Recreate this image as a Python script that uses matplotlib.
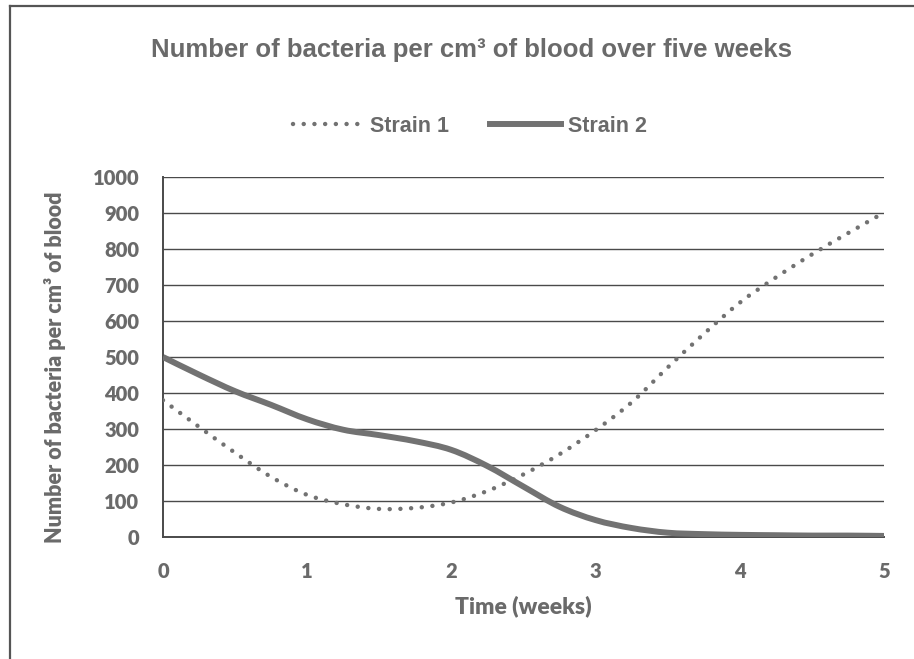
import matplotlib
matplotlib.use("Agg")
import matplotlib.pyplot as plt
from matplotlib.lines import Line2D
from matplotlib.path import Path
from matplotlib.patches import PathPatch

# Data
weeks = [0, 0.25, 0.5, 0.75, 1.0, 1.25, 1.5, 1.75, 2.0, 2.25, 2.5, 2.75,
         3.0, 3.25, 3.5, 3.75, 4.0, 4.25, 4.5, 4.75, 5.0]
strain1 = [380, 306, 234, 167, 117, 91, 78, 81, 96, 128, 174, 230,
           297, 374, 471, 564, 651, 721, 785, 844, 901]
strain2 = [500, 451, 405, 367, 327, 298, 283, 266, 242, 197, 140, 84,
           47, 25, 12, 8, 6, 5, 4, 4, 3]
yticks = [0, 100, 200, 300, 400, 500, 600, 700, 800, 900, 1000]
xticks = [0, 1, 2, 3, 4, 5]

title = "Number of bacteria per cm³ of blood over five weeks"
ylabel = "Number of bacteria per cm³ of blood"
xlabel = "Time (weeks)"

TXT = "#6a6a6a"
LINE = "#727272"
GRID = "#4a4a4a"


def smooth_path(xs, ys, t=1 / 6):
    """Excel-style smoothed line: cubic Bezier through the data points."""
    verts = [(xs[0], ys[0])]
    codes = [Path.MOVETO]
    n = len(xs)
    for i in range(n - 1):
        x0, y0 = (xs[i - 1], ys[i - 1]) if i > 0 else (xs[i], ys[i])
        x1, y1 = xs[i], ys[i]
        x2, y2 = xs[i + 1], ys[i + 1]
        x3, y3 = (xs[i + 2], ys[i + 2]) if i + 2 < n else (x2, y2)
        c1 = (x1 + (x2 - x0) * t, y1 + (y2 - y0) * t)
        c2 = (x2 - (x3 - x1) * t, y2 - (y3 - y1) * t)
        verts += [c1, c2, (x2, y2)]
        codes += [Path.CURVE4] * 3
    return Path(verts, codes)


fig = plt.figure(figsize=(9.14, 6.59), dpi=100)
fig.patch.set_facecolor("white")
ax = fig.add_axes([0.1783, 0.1851, 0.9672 - 0.1783, 0.7314 - 0.1851])

ax.add_patch(PathPatch(smooth_path(weeks, strain2), fill=False, edgecolor=LINE,
                       lw=4.3, capstyle="butt", joinstyle="round", zorder=3))
ax.add_patch(PathPatch(smooth_path(weeks, strain1), fill=False, edgecolor=LINE,
                       lw=3.2, linestyle=(0, (0.01, 2.4)), capstyle="round",
                       zorder=4))

h_s1 = Line2D([], [], color=LINE, lw=3.2, linestyle=(0, (0.01, 2.4)),
              dash_capstyle="round")
h_s2 = Line2D([], [], color=LINE, lw=4.3)

ax.set_xlim(0, 5)
ax.set_ylim(0, 1000)
ax.set_xticks(xticks)
ax.set_yticks(yticks)
ax.yaxis.grid(True, color=GRID, lw=1.0)
ax.set_axisbelow(True)
for s in ["top", "right"]:
    ax.spines[s].set_visible(False)
ax.spines["left"].set_color(GRID)
ax.spines["left"].set_linewidth(1.4)
ax.spines["bottom"].set_color(GRID)
ax.spines["bottom"].set_linewidth(1.4)
ax.tick_params(length=0, labelsize=14.5, labelcolor=TXT)
ax.tick_params(axis="x", pad=18)
ax.tick_params(axis="y", pad=17)
for lab in ax.get_xticklabels() + ax.get_yticklabels():
    lab.set_fontfamily("Lato")
    lab.set_fontweight("heavy")

ax.set_xlabel(xlabel, fontsize=16.5, fontfamily="Lato", fontweight="heavy",
              color=TXT, labelpad=10)
ax.set_ylabel(ylabel, fontsize=15.5, fontfamily="Lato", fontweight="heavy",
              color=TXT)
ax.yaxis.set_label_coords(-0.135, 0.472)

fig.text(0.516, 0.924, title, ha="center", va="center", fontsize=18.5,
         fontfamily="Liberation Sans", fontweight="bold", color=TXT)

leg = fig.legend([h_s1, h_s2], ["Strain 1", "Strain 2"],
                 loc="center", bbox_to_anchor=(0.514, 0.808), ncol=2,
                 frameon=False, handlelength=3.3, columnspacing=1.9,
                 handletextpad=0.3,
                 prop={"family": "Liberation Sans", "weight": "bold", "size": 15.5})
for t in leg.get_texts():
    t.set_color(TXT)

# figure frame (top and left edges visible)
fig.add_artist(Line2D([10 / 914, 10 / 914], [0, 1 - 6 / 659],
                      transform=fig.transFigure, color="#555555", lw=1.6))
fig.add_artist(Line2D([10 / 914, 1], [1 - 6 / 659, 1 - 6 / 659],
                      transform=fig.transFigure, color="#555555", lw=1.6))

fig.savefig("out.png", dpi=100)
